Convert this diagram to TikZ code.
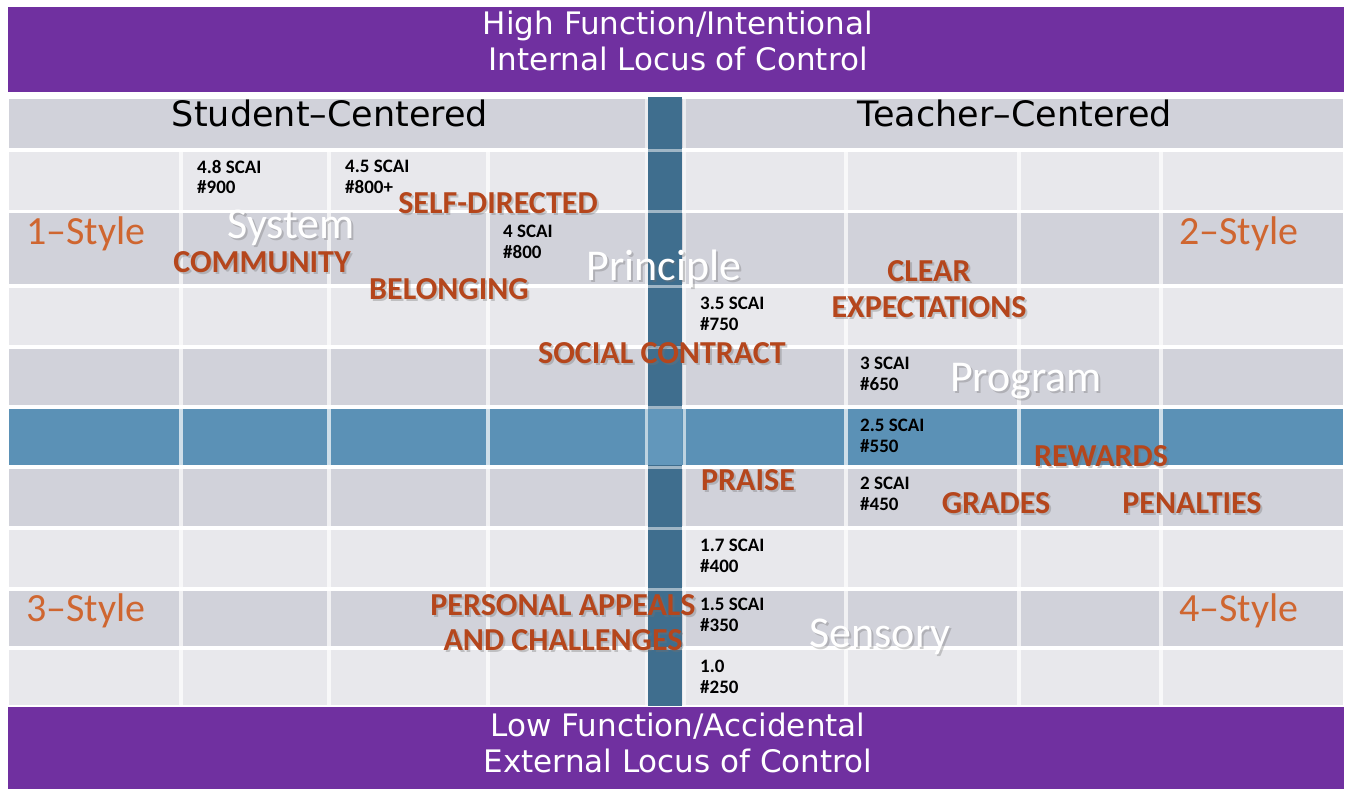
\documentclass[tikz,border=0pt]{standalone}
\usepackage{fontspec}
\setmainfont{Carlito}
\newfontfamily\headfont{DejaVu Sans}

\definecolor{bandpurple}{HTML}{7030A0}
\definecolor{rowgray}{HTML}{D1D2DA}
\definecolor{rowlight}{HTML}{E8E8EC}
\definecolor{bandblue}{HTML}{5B91B6}
\definecolor{barblue}{HTML}{3F6E8E}
\definecolor{barlight}{HTML}{6297BB}
\definecolor{wordorange}{HTML}{B5461C}
\definecolor{styleorange}{HTML}{CF6630}

\tikzset{x=1pt, y=-1pt} % one unit per pixel, y going down

% text with a soft drop shadow: name, style, position, text
\newcommand\shadowword[4]{%
  \node[#2, text=black!55, opacity=.35, xshift=2pt, yshift=-2pt] at #3 {#4};
  \node[#2] (#1) at #3 {#4};}

\begin{document}
\begin{tikzpicture}[
  bandline/.style={font=\headfont\fontsize{31}{36}\selectfont, text=white, align=center, inner sep=0pt},
  headline/.style={font=\headfont\fontsize{35}{40}\selectfont, inner sep=0pt, anchor=base},
  stylename/.style={font=\fontsize{40}{44}\selectfont, text=styleorange, inner sep=0pt, anchor=base},
  whiteword/.style={font=\fontsize{44}{48}\selectfont, text=white, inner sep=0pt, anchor=base},
  orangeword/.style={font=\fontsize{32}{35}\selectfont\bfseries, text=wordorange, inner sep=0pt, anchor=base},
  scai/.style={font=\fontsize{19}{20.5}\selectfont\bfseries, align=left, inner sep=0pt, anchor=north west}]
\useasboundingbox (0,0) rectangle (1348,789);
% purple bands
\fill[bandpurple] (8,7) rectangle (1344,92);
\fill[bandpurple] (8,707) rectangle (1344,789);
% header row and grid rows, edit here for the rows
\foreach \ya/\yb/\c in {99/148/rowgray, 152/210/rowlight, 213/284/rowgray,
  288/345/rowlight, 349/405/rowgray, 409/465/bandblue, 469/526/rowgray,
  530/587/rowlight, 591/646/rowgray, 650/705/rowlight}
\fill[\c] (9,\ya) rectangle (1343,\yb);
% column lines
\foreach \x in {181,329,488,846,1019,1161}
\draw[white, opacity=.7, line width=4pt] (\x,150) -- (\x,706);
% centre bar
\fill[barblue] (648,97) rectangle (682,706);
\fill[barlight] (648,409) rectangle (682,465);
\foreach \x in {646,684}
\draw[white, opacity=.6, line width=3pt] (\x,97) -- (\x,706);
\foreach \y in {150,211.5,286,347,407,467,528,589,648}
\draw[white, opacity=.5, line width=3pt] (648,\y) -- (682,\y);

\node[bandline, anchor=north] (high) at (678,11) {High Function/Intentional\\Internal Locus of Control};
\node[bandline, anchor=north] (low) at (678,713) {Low Function/Accidental\\External Locus of Control};
\node[headline] (student) at (330,127) {Student–Centered};
\node[headline] (teacher) at (1015,127) {Teacher–Centered};

\node[stylename] (style1) at (86,244) {1–Style};
\node[stylename] (style2) at (1239,244) {2–Style};
\node[stylename] (style3) at (86,621) {3–Style};
\node[stylename] (style4) at (1239,621) {4–Style};

\shadowword{system}{whiteword}{(291,238)}{System}
\shadowword{principle}{whiteword}{(664,280)}{Principle}
\shadowword{program}{whiteword}{(1026,391)}{Program}
\shadowword{sensory}{whiteword}{(880,647)}{Sensory}

\shadowword{selfdirected}{orangeword}{(498,213)}{SELF-DIRECTED}
\shadowword{community}{orangeword}{(262,272)}{COMMUNITY}
\shadowword{belonging}{orangeword}{(449,299)}{BELONGING}
\shadowword{expectations}{orangeword, align=center, anchor=north}{(929,260)}{CLEAR\\[1pt]EXPECTATIONS}
\shadowword{contract}{orangeword}{(662,363)}{SOCIAL CONTRACT}
\shadowword{rewards}{orangeword}{(1101,466)}{REWARDS}
\shadowword{praise}{orangeword}{(748,490)}{PRAISE}
\shadowword{grades}{orangeword}{(996,513)}{GRADES}
\shadowword{penalties}{orangeword}{(1192,513)}{PENALTIES}
\shadowword{appeals}{orangeword, align=center, anchor=north}{(563,594)}{PERSONAL APPEALS\\AND CHALLENGES}

% scores, edit here for the values
\foreach \n/\x/\y/\s/\v in {a/197/160/4.8 SCAI/900, b/345/160/4.5 SCAI/800+,
  c/503/225/4 SCAI/800, d/700/297/3.5 SCAI/750, e/860/357/3 SCAI/650,
  f/860/419/2.5 SCAI/550, g/860/477/2 SCAI/450, h/700/539/1.7 SCAI/400,
  i/700/598/1.5 SCAI/350, j/700/660/1.0/250}
\node[scai] (scai\n) at (\x,\y) {\s\\\#\v};
\end{tikzpicture}
\end{document}
